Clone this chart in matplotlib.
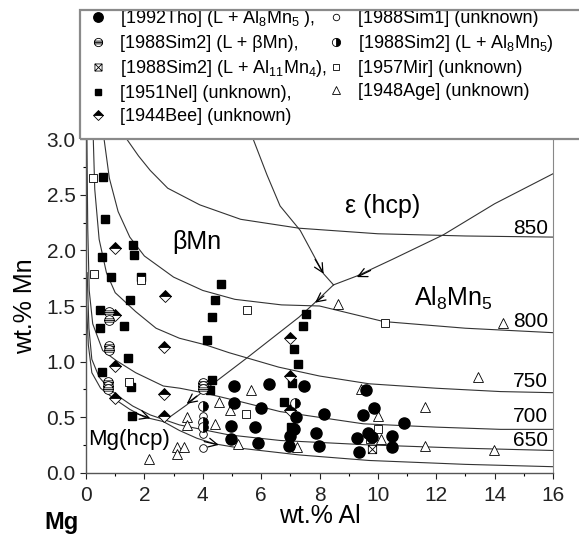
import numpy as np
import matplotlib
matplotlib.use('Agg')
import matplotlib.pyplot as plt
from matplotlib.path import Path
from matplotlib.patches import Rectangle
from matplotlib.ticker import MultipleLocator

plt.rcParams['font.family'] = ['Liberation Sans', 'DejaVu Sans']
plt.rcParams['mathtext.fontset'] = 'custom'
plt.rcParams['mathtext.rm'] = 'Liberation Sans'
plt.rcParams['mathtext.it'] = 'Liberation Sans:italic'
plt.rcParams['mathtext.bf'] = 'Liberation Sans:bold'

# ---------------- data (wt.% Al, wt.% Mn) ----------------
tho_al = [5.07, 6.28, 7.47, 9.58, 5.07, 5.98, 7.18, 8.17, 9.49, 9.87, 10.88, 4.98, 5.78,
          7.13, 7.00, 7.88, 9.28, 9.66, 9.79, 10.49, 4.98, 5.88, 6.95, 7.98, 9.37, 10.49]
tho_mn = [0.78, 0.80, 0.78, 0.74, 0.63, 0.58, 0.50, 0.53, 0.52, 0.58, 0.45, 0.42, 0.41,
          0.39, 0.33, 0.36, 0.31, 0.36, 0.32, 0.33, 0.30, 0.27, 0.24, 0.24, 0.19, 0.23]

sim1_al = [4.0, 4.0, 4.0]
sim1_mn = [0.22, 0.35, 0.51]

sim2b_al = [0.79, 0.79, 0.78, 0.78, 0.77, 0.77, 0.77, 4.0, 4.0, 4.0]
sim2b_mn = [1.45, 1.37, 1.14, 1.10, 0.82, 0.78, 0.75, 0.81, 0.78, 0.75]

sim2a_al = [4.0, 4.0, 4.0, 7.15]
sim2a_mn = [0.60, 0.46, 0.41, 0.63]

sim2c_al = [9.8]
sim2c_mn = [0.21]

mir_al = [0.25, 0.28, 1.89, 5.51, 1.47, 5.48, 10.26, 9.99, 9.74]
mir_mn = [2.65, 1.79, 1.73, 1.46, 0.82, 0.53, 1.35, 0.39, 0.30]

nel_al = [0.57, 0.65, 1.60, 1.66, 0.54, 1.90, 0.85, 1.52, 4.62, 4.41, 4.31, 0.48, 1.29, 0.48,
          4.14, 1.44, 0.56, 1.53, 4.33, 4.25, 1.56, 7.11, 7.28, 7.07, 6.80, 7.02, 7.54, 7.45]
nel_mn = [2.66, 2.28, 2.05, 1.96, 1.94, 1.76, 1.76, 1.55, 1.70, 1.55, 1.40, 1.46, 1.32, 1.30,
          1.19, 1.03, 0.91, 0.77, 0.83, 0.74, 0.51, 1.11, 0.98, 0.81, 0.64, 0.41, 1.43, 1.32]

age_al = [8.62, 14.28, 13.44, 9.42, 11.6, 9.99, 10.1, 11.6, 13.98, 7.22, 5.65, 4.54, 4.93,
          3.47, 3.47, 4.41, 3.11, 3.35, 3.11, 2.17, 5.22]
age_mn = [1.52, 1.35, 0.86, 0.75, 0.59, 0.51, 0.30, 0.24, 0.20, 0.23, 0.74, 0.64, 0.56,
          0.50, 0.43, 0.44, 0.23, 0.23, 0.17, 0.12, 0.26]

bee_al = [0.99, 2.71, 0.99, 2.67, 0.99, 0.99, 2.67, 2.67, 7.0, 7.0, 7.0]
bee_mn = [2.02, 1.59, 1.42, 1.13, 0.96, 0.67, 0.71, 0.51, 1.21, 0.87, 0.56]

legend_labels = [
    r'[1992Tho] (L + Al$_8$Mn$_5$ ),',
    '[1988Sim2] (L + βMn),',
    r'[1988Sim2] (L + Al$_{11}$Mn$_4$),',
    '[1951Nel] (unknown),',
    '[1944Bee] (unknown)',
    '[1988Sim1] (unknown)',
    r'[1988Sim2] (L + Al$_8$Mn$_5$)',
    '[1957Mir] (unknown)',
    '[1948Age] (unknown)',
]

# isotherms
iso850_al = [1.40, 1.8, 2.2, 2.8, 3.9, 5.3, 7.3, 10.0, 13.0, 16.0]
iso850_mn = [3.0, 2.85, 2.72, 2.56, 2.41, 2.28, 2.20, 2.15, 2.13, 2.12]
iso800_al = [0.62, 0.8, 1.1, 1.5, 2.0, 3.0, 4.0, 5.1, 6.7, 8.0, 10.2, 13.0, 16.0]
iso800_mn = [3.0, 2.65, 2.35, 2.12, 1.95, 1.76, 1.64, 1.56, 1.51, 1.50, 1.36, 1.30, 1.26]
iso750_al = [0.25, 0.30, 0.45, 0.70, 1.0, 1.7, 2.4, 3.2, 4.1, 4.9, 6.6, 8.0, 9.7, 12.0, 14.2, 16.0]
iso750_mn = [3.0, 2.55, 2.10, 1.80, 1.62, 1.45, 1.30, 1.21, 1.15, 1.08, 0.95, 0.87, 0.80, 0.76, 0.73, 0.72]
iso700_al = [0.03, 0.06, 0.11, 0.23, 0.57, 1.03, 1.7, 2.65, 3.22, 4.0, 5.28, 6.65, 9.5, 12.0, 14.2, 16.0]
iso700_mn = [3.0, 2.2, 1.64, 1.34, 1.10, 1.01, 0.90, 0.78, 0.76, 0.72, 0.64, 0.55, 0.44, 0.41, 0.39, 0.39]
iso650_al = [0.04, 0.10, 0.20, 0.45, 0.75, 1.1, 1.6, 2.2, 3.2, 4.9, 6.65, 9.7, 13.0, 16.0]
iso650_mn = [1.8, 1.30, 1.02, 0.86, 0.77, 0.69, 0.60, 0.52, 0.43, 0.34, 0.29, 0.25, 0.22, 0.20]
iso_label_mn = [2.20, 1.36, 0.82, 0.51, 0.29]
iso_label_txt = ['850', '800', '750', '700', '650']

# phase boundaries
b_beta_eps_al = [5.73, 6.2, 6.65, 7.34, 8.14, 8.48]
b_beta_eps_mn = [3.0, 2.68, 2.40, 2.18, 1.79, 1.69]
b_eps_al8_al = [16.0, 14.0, 12.24, 10.5, 9.28, 8.48]
b_eps_al8_mn = [2.69, 2.42, 2.14, 1.92, 1.77, 1.69]
b_beta_al8_al = [8.48, 7.8, 7.3, 5.5, 4.0, 3.45, 2.65]
b_beta_al8_mn = [1.69, 1.52, 1.40, 1.03, 0.73, 0.61, 0.46]
b_mg_beta_al = [0.02, 0.08, 0.20, 0.50, 0.94, 1.5, 2.0, 2.65]
b_mg_beta_mn = [1.5, 1.15, 0.90, 0.76, 0.67, 0.57, 0.50, 0.46]
b_mg_al8_al = [2.65, 3.2, 3.8, 4.4, 5.3, 7.3, 9.7, 13.0, 16.0]
b_mg_al8_mn = [0.46, 0.38, 0.31, 0.26, 0.22, 0.16, 0.11, 0.075, 0.054]

# arrows: (tail Al, tail Mn, head Al, head Mn)
arrow_tail_al = [7.85, 9.75, 8.15, 3.80, 1.75, 4.05]
arrow_tail_mn = [1.92, 1.82, 1.59, 0.69, 0.53, 0.28]
arrow_head_al = [8.14, 9.28, 7.85, 3.45, 2.20, 4.55]
arrow_head_mn = [1.79, 1.76, 1.53, 0.62, 0.49, 0.25]

# ---------------- figure ----------------
fig = plt.figure(figsize=(5.79, 5.39), dpi=100)
ax = fig.add_axes([86 / 579, 1 - 472.7 / 539, 467 / 579, 333.4 / 539])

lc = '#333333'
lw = 0.8
for xs, ys in [(iso850_al, iso850_mn), (iso800_al, iso800_mn), (iso750_al, iso750_mn),
               (iso700_al, iso700_mn), (iso650_al, iso650_mn),
               (b_beta_eps_al, b_beta_eps_mn), (b_eps_al8_al, b_eps_al8_mn),
               (b_beta_al8_al, b_beta_al8_mn), (b_mg_beta_al, b_mg_beta_mn),
               (b_mg_al8_al, b_mg_al8_mn)]:
    ax.plot(xs, ys, color=lc, lw=lw, zorder=1)

for ta, tm, ha_, hm in zip(arrow_tail_al, arrow_tail_mn, arrow_head_al, arrow_head_mn):
    ax.annotate('', xy=(ha_, hm), xytext=(ta, tm),
                arrowprops=dict(arrowstyle='->', color='black', lw=0.9,
                                mutation_scale=16, shrinkA=0, shrinkB=0), zorder=2)

# custom markers
striped = Path.make_compound_path(
    Path.unit_circle(),
    Path([(-0.94, 0.34), (0.94, 0.34), (-1, 0), (1, 0), (-0.94, -0.34), (0.94, -0.34)],
         [Path.MOVETO, Path.LINETO] * 3))
crossed = Path([(-1, -1), (1, -1), (1, 1), (-1, 1), (-1, -1), (-1, -1), (1, 1), (-1, 1), (1, -1)],
               [Path.MOVETO, Path.LINETO, Path.LINETO, Path.LINETO, Path.CLOSEPOLY,
                Path.MOVETO, Path.LINETO, Path.MOVETO, Path.LINETO])

k = 'black'
h_nel, = ax.plot(nel_al, nel_mn, ls='none', marker='s', ms=5.5, mfc=k, mec=k, zorder=3)
h_mir, = ax.plot(mir_al, mir_mn, ls='none', marker='s', ms=5.5, mfc='white', mec=k, mew=0.6, zorder=4)
h_age, = ax.plot(age_al, age_mn, ls='none', marker='^', ms=7.5, mfc='white', mec=k, mew=0.6, zorder=4)
h_bee, = ax.plot(bee_al, bee_mn, ls='none', marker='D', ms=6.5, mfc=k, mfcalt='white',
                 fillstyle='top', mec=k, mew=0.6, zorder=4)
h_tho, = ax.plot(tho_al, tho_mn, ls='none', marker='o', ms=8, mfc=k, mec=k, zorder=5)
h_sim1, = ax.plot(sim1_al, sim1_mn, ls='none', marker='o', ms=5.5, mfc='white', mec=k, mew=0.6, zorder=5)
h_sim2b, = ax.plot(sim2b_al, sim2b_mn, ls='none', marker=striped, ms=7, mfc='white', mec=k, mew=0.6, zorder=5)
h_sim2a, = ax.plot(sim2a_al, sim2a_mn, ls='none', marker='o', ms=7, mfc=k, mfcalt='white',
                   fillstyle='right', mec=k, mew=0.6, zorder=6)
h_sim2c, = ax.plot(sim2c_al, sim2c_mn, ls='none', marker=crossed, ms=6, mfc='white', mec=k, mew=0.6, zorder=6)

ax.set_xlim(0, 16)
ax.set_ylim(0, 3.0)
ax.xaxis.set_major_locator(MultipleLocator(2))
ax.xaxis.set_minor_locator(MultipleLocator(1))
ax.yaxis.set_major_locator(MultipleLocator(0.5))
ax.yaxis.set_minor_locator(MultipleLocator(0.25))
ax.yaxis.set_major_formatter(matplotlib.ticker.FormatStrFormatter('%.1f'))
ax.tick_params(which='major', direction='out', length=4.5, width=0.8, labelsize=15, pad=3, colors='#222222')
ax.tick_params(which='minor', direction='out', length=2.5, width=0.8)
ax.tick_params(axis='x', pad=5)
for s in ['left', 'bottom']:
    ax.spines[s].set_color('#555555')
    ax.spines[s].set_linewidth(1.0)
ax.spines['right'].set_color('#888888')
ax.spines['right'].set_linewidth(0.8)
ax.spines['top'].set_visible(False)

ax.set_xlabel('wt.% Al', fontsize=18)
ax.xaxis.set_label_coords(0.5, -0.095)
ax.set_ylabel('wt.% Mn', fontsize=18)
ax.yaxis.set_label_coords(-0.105, 0.5)

# region labels
ax.text(3.8, 2.08, 'βMn', fontsize=18, ha='center', va='center')
ax.text(10.15, 2.40, 'ε (hcp)', fontsize=18, ha='center', va='center')
ax.text(12.58, 1.57, r'Al$_8$Mn$_5$', fontsize=18, ha='center', va='center')
ax.text(1.47, 0.30, 'Mg(hcp)', fontsize=16, ha='center', va='center')
for t, m in zip(iso_label_txt, iso_label_mn):
    ax.text(15.84, m, t, fontsize=15, ha='right', va='center')

fig.text(62 / 579, 1 - 523 / 539, 'Mg', fontsize=17, fontweight='bold', ha='center', va='center')

# legend box
fig.patches.append(Rectangle((80 / 579, 1 - 139.3 / 539), 1.0, (139.3 - 10) / 539,
                             transform=fig.transFigure, fill=False, ec='#8a8a8a', lw=1.6,
                             clip_on=False))
handles = [h_tho, h_sim2b, h_sim2c, h_nel, h_bee, h_sim1, h_sim2a, h_mir, h_age]
ax.legend(handles, legend_labels, ncol=2, loc='upper left',
          bbox_to_anchor=(89 / 579, 1 - 8 / 539), bbox_transform=fig.transFigure,
          frameon=False, fontsize=13, handlelength=1.0, handletextpad=0.7,
          columnspacing=0.0, labelspacing=0.33, borderpad=0, borderaxespad=0,
          markerscale=0.85)

fig.savefig('out.png', dpi=100)
